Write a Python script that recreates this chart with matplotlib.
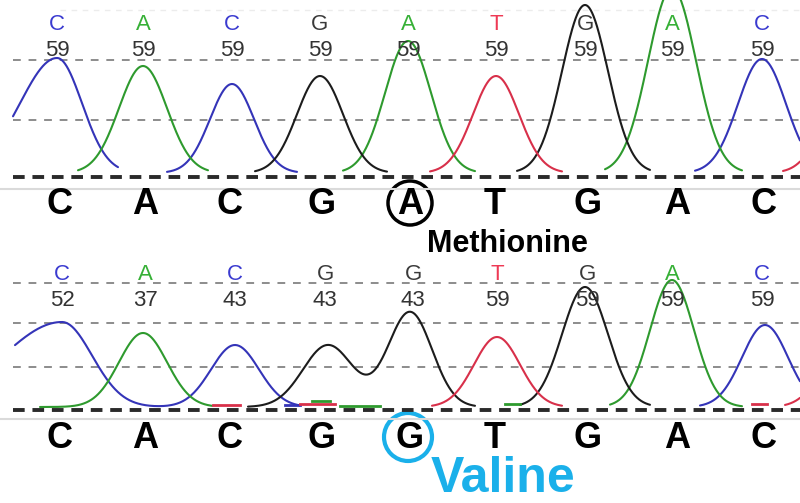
import numpy as np
import matplotlib
matplotlib.use("Agg")
from matplotlib import pyplot as plt
from matplotlib.patches import Circle

# called bases under each trace
bases_top = list("CACGATGAC")
bases_bot = list("CACGGTGAC")
base_x = [60, 145, 230, 322, 410, 495, 588, 677, 763]
mut_idx = 4

# peak call labels (letter + quality value)
lab_x_top = [57, 143, 232, 320, 408, 496, 585, 672, 762]
qv_top = [59, 59, 59, 59, 59, 59, 59, 59, 59]
lab_x_bot = [62, 145, 235, 325, 413, 497, 587, 672, 762]
qv_bot = [52, 37, 43, 43, 43, 59, 59, 59, 59]

# peaks: channel, centre, height, left sigma, right sigma
top_ch = ['C', 'A', 'C', 'G', 'A', 'T', 'G', 'A', 'C', 'T']
top_mu = [57, 143, 232, 320, 408, 496, 585, 672, 762, 850]
top_h = [115, 107, 89, 97, 132, 97, 168, 185, 114, 100]
top_sl = [37, 24, 22, 23, 23, 23, 23, 24, 24, 24]
top_sr = [25, 24, 22, 23, 23, 23, 23, 24, 24, 24]
top_seg = {'C': [(13, 118), (167, 297), (695, 800)],
           'A': [(78, 208), (343, 475), (605, 742)],
           'G': [(255, 387), (517, 650)],
           'T': [(430, 562), (783, 800)]}

bot_ch = ['C', 'A', 'C', 'G', 'G', 'T', 'G', 'A', 'C', 'T']
bot_mu = [62, 143, 235, 328, 410, 497, 585, 672, 765, 850]
bot_h = [85, 74, 62, 62, 95, 70, 120, 127, 82, 80]
bot_sl = [59, 24, 24, 25, 22, 23, 23, 22, 23, 24]
bot_sr = [30, 24, 24, 25, 22, 23, 23, 22, 23, 24]
bot_seg = {'C': [(15, 300), (700, 800)],
           'A': [(40, 212), (610, 742)],
           'G': [(248, 475), (520, 650)],
           'T': [(432, 562), (785, 800)]}
# small flat noise blips near the baseline: channel, x0, x1, level
blip_ch = ['T', 'C', 'T', 'A', 'A', 'A', 'T']
blip_x0 = [213, 285, 300, 312, 340, 505, 752]
blip_x1 = [240, 300, 335, 330, 380, 520, 767]
blip_lv = [5, 5, 6, 9, 4, 6, 6]

trace_col = {'C': '#3434b8', 'A': '#2e9a2e', 'G': '#1c1c1c', 'T': '#d8304a'}
label_col = {'C': '#3b3bd0', 'A': '#36b036', 'G': '#3a3a3a', 'T': '#ee3a55'}
valine_col = '#1ab0ea'
sans = ['Liberation Sans', 'DejaVu Sans']
narrow = ['Liberation Sans Narrow', 'Liberation Sans', 'DejaVu Sans']


def signal(x, ch, chans, mus, hs, sl, sr, off):
    y = np.full_like(x, off, dtype=float)
    for c, m, h, a, b in zip(chans, mus, hs, sl, sr):
        if c != ch:
            continue
        s = np.where(x < m, a, b)
        y += h * np.exp(-(x - m) ** 2 / (2.0 * s ** 2))
    return y


def panel(ax, chans, mus, hs, sl, sr, segs, off, levels, lab_x, qv, calls, lab_y):
    ax.set_xlim(0, 800)
    ax.axis('off')
    for lv in levels:
        ax.plot([13, 800], [lv, lv], color='#8c8c8c', lw=1.4, dashes=(4, 4))
    ax.plot([13, 800], [0, 0], color='#2a2a2a', lw=2.8, dashes=(3, 2))
    for ch, lst in segs.items():
        for x0, x1 in lst:
            x = np.linspace(x0, x1, 300)
            ax.plot(x, signal(x, ch, chans, mus, hs, sl, sr, off),
                    color=trace_col[ch], lw=1.5, solid_capstyle='round')
    for x, q, c in zip(lab_x, qv, calls):
        ax.text(x, lab_y[0], c, color=label_col[c], fontsize=16,
                ha='center', va='center', family=sans)
        ax.text(x, lab_y[1], str(q), color='#333333', fontsize=16,
                ha='center', va='center', family=sans)


fig = plt.figure(figsize=(8, 5.03), dpi=100)
fig.patch.set_facecolor('white')

# top (reference) panel: 1 data unit = 1 pixel
ax1 = fig.add_axes([0, 1 - 192 / 503, 1, 192 / 503])
ax1.set_ylim(-15, 177)
ax1.plot([0, 800], [-12, -12], color='#dadada', lw=1.5)
ax1.plot([60, 800], [167, 167], color='#ececec', lw=1, dashes=(4, 4))
panel(ax1, top_ch, top_mu, top_h, top_sl, top_sr, top_seg, 4, [117, 57],
      lab_x_top, qv_top, bases_top, (152, 127))

# bottom (mutant) panel
ax2 = fig.add_axes([0, 1 - 422 / 503, 1, 160 / 503])
ax2.set_ylim(-12, 148)
ax2.plot([0, 800], [-9, -9], color='#dadada', lw=1.5)
panel(ax2, bot_ch, bot_mu, bot_h, bot_sl, bot_sr, bot_seg, 3, [127, 87, 43],
      lab_x_bot, qv_bot, bases_bot, (135, 110))
for c, x0, x1, lv in zip(blip_ch, blip_x0, blip_x1, blip_lv):
    ax2.plot([x0, x1], [lv, lv], color=trace_col[c], lw=2)

bold = dict(fontweight='bold', ha='center', va='center')
for x, b in zip(base_x, bases_top):
    ax1.text(x, -27, b, fontsize=26, color='black', family=narrow, **bold)
for x, b in zip(base_x, bases_bot):
    ax2.text(x, -28, b, fontsize=26, color='black', family=narrow, **bold)

ax1.add_patch(Circle((base_x[mut_idx], -26), 22, fill=False, ec='black',
                     lw=2.5, clip_on=False))
ax2.add_patch(Circle((base_x[mut_idx] - 2, -27), 24, fill=False, ec=valine_col,
                     lw=3, clip_on=False))

ax1.text(507, -67, 'Methionine', fontsize=22, color='black', family=sans, **bold)
ax2.text(503, -69, 'Valine', fontsize=36, color=valine_col, family=sans, **bold)

plt.savefig('out.png', dpi=100, facecolor='white')
